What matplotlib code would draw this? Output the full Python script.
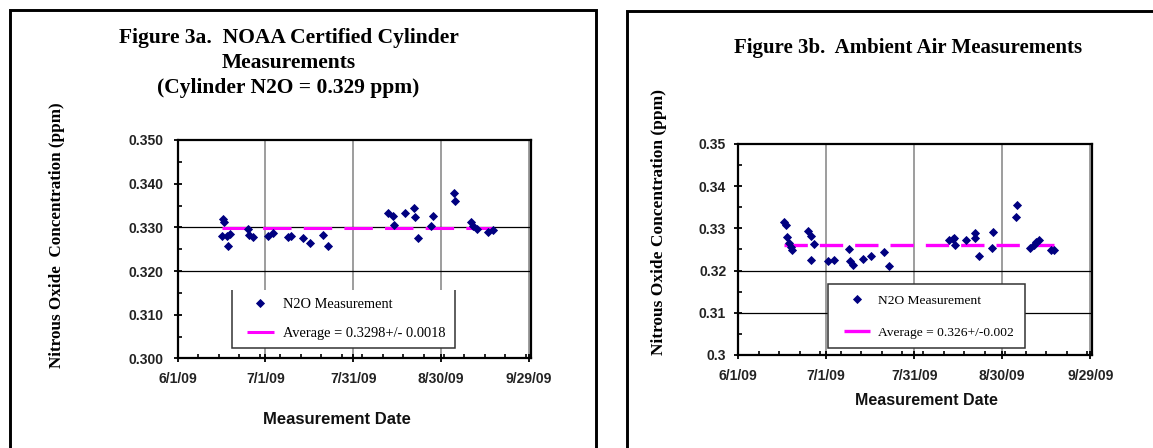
import matplotlib
matplotlib.use("Agg")
import matplotlib.pyplot as plt
import matplotlib.dates as mdates
from matplotlib.lines import Line2D
from matplotlib.patches import Rectangle, Polygon
from matplotlib.ticker import MultipleLocator, FixedLocator
import pandas as pd

plt.rcParams["font.family"] = ["Liberation Sans", "DejaVu Sans"]

# ---------------- data ----------------
a_dates = ["2009-06-16 14:00", "2009-06-16 22:00", "2009-06-16 07:00", "2009-06-17 22:00",
           "2009-06-18 19:00", "2009-06-18 07:00", "2009-06-25 00:00", "2009-06-25 10:00",
           "2009-06-26 19:00", "2009-07-01 22:00", "2009-07-03 14:00", "2009-07-08 14:00",
           "2009-07-09 14:00", "2009-07-13 19:00", "2009-07-16 02:00", "2009-07-20 14:00",
           "2009-07-22 10:00", "2009-08-11 19:00", "2009-08-13 17:00", "2009-08-13 19:00",
           "2009-08-17 19:00", "2009-08-20 19:00", "2009-08-21 05:00", "2009-08-22 00:00",
           "2009-08-26 17:00", "2009-08-27 02:00", "2009-09-03 14:00", "2009-09-03 19:00",
           "2009-09-09 02:00", "2009-09-10 00:00", "2009-09-11 10:00", "2009-09-15 02:00",
           "2009-09-16 17:00"]
a_values = [0.3319, 0.3312, 0.3280, 0.3280, 0.3284, 0.3258, 0.3296, 0.3282, 0.3278,
            0.3281, 0.3286, 0.3278, 0.3280, 0.3275, 0.3265, 0.3283, 0.3258,
            0.3334, 0.3327, 0.3306, 0.3334, 0.3344, 0.3323, 0.3275, 0.3302, 0.3327,
            0.3379, 0.3361, 0.3313, 0.3303, 0.3296, 0.3290, 0.3294]
a_average = 0.3298
a_ref_lines = [0.330, 0.320]
a_yticks = [0.300, 0.310, 0.320, 0.330, 0.340, 0.350]
a_yticklabels = ["0.300", "0.310", "0.320", "0.330", "0.340", "0.350"]
a_title = ["Figure 3a.  NOAA Certified Cylinder", "Measurements", "(Cylinder N2O = 0.329 ppm)"]
a_ylabel = "Nitrous Oxide  Concentration (ppm)"
a_legend = ["N2O Measurement", "Average = 0.3298+/- 0.0018"]

b_dates = ["2009-06-16 19:00", "2009-06-17 10:00", "2009-06-17 19:00", "2009-06-18 12:00",
           "2009-06-19 00:00", "2009-06-19 12:00", "2009-06-25 00:00", "2009-06-25 19:00",
           "2009-06-27 00:00", "2009-06-25 22:00", "2009-07-01 19:00", "2009-07-03 17:00",
           "2009-07-08 19:00", "2009-07-09 05:00", "2009-07-10 00:00", "2009-07-13 17:00",
           "2009-07-16 07:00", "2009-07-20 19:00", "2009-07-22 14:00", "2009-08-11 17:00",
           "2009-08-13 05:00", "2009-08-13 17:00", "2009-08-13 22:00", "2009-08-17 17:00",
           "2009-08-20 14:00", "2009-08-20 19:00", "2009-08-21 22:00", "2009-08-26 12:00",
           "2009-08-26 17:00", "2009-09-03 17:00", "2009-09-04 00:00", "2009-09-08 12:00",
           "2009-09-09 17:00", "2009-09-10 14:00", "2009-09-11 12:00", "2009-09-15 14:00",
           "2009-09-16 17:00"]
b_values = [0.3316, 0.3309, 0.3279, 0.3265, 0.3256, 0.3248, 0.3295, 0.3283, 0.3263,
            0.3226, 0.3223, 0.3224, 0.3251, 0.3222, 0.3214, 0.3227, 0.3234, 0.3245,
            0.3212, 0.3273, 0.3275, 0.3277, 0.3261, 0.3273, 0.3277, 0.3289, 0.3235,
            0.3253, 0.3291, 0.3327, 0.3356, 0.3253, 0.3261, 0.3267, 0.3272, 0.3248,
            0.3249]
b_average = 0.326
b_ref_lines = [0.320, 0.310]
b_yticks = [0.30, 0.31, 0.32, 0.33, 0.34, 0.35]
b_yticklabels = ["0.3", "0.31", "0.32", "0.33", "0.34", "0.35"]
b_title = ["Figure 3b.  Ambient Air Measurements"]
b_ylabel = "Nitrous Oxide Concentration (ppm)"
b_legend = ["N2O Measurement", "Average = 0.326+/-0.002"]

xtick_dates = ["2009-06-01", "2009-07-01", "2009-07-31", "2009-08-30", "2009-09-29"]
xtick_labels = ["6/1/09", "7/1/09", "7/31/09", "8/30/09", "9/29/09"]
xlabel = "Measurement Date"

NAVY = "#000080"
MAGENTA = "#FF00FF"
SERIF = ["Liberation Serif", "DejaVu Serif"]

fig = plt.figure(figsize=(11.53, 4.48), dpi=100)
fig.patch.set_facecolor("white")

# outer panel frames
fig.patches.append(Rectangle((0.0083, -0.1), 0.5169 - 0.0083, 0.978 + 0.1, transform=fig.transFigure,
                             fill=False, edgecolor="black", linewidth=2.1))
fig.patches.append(Rectangle((0.5438, -0.1), 0.6, 0.9759 + 0.1, transform=fig.transFigure,
                             fill=False, edgecolor="black", linewidth=2.1))


def make_panel(rect, dates, values, average, ref_lines, yticks, yticklabels, ylabel,
               legend_labels, dash, avg_lw, ylabel_xy, xlabel_xy, xlabel_size, ypad,
               box, box_top_edge, leg_x, leg_rows, leg_fs, leg_hl, leg_pad, ylab_fs):
    ax = fig.add_axes(rect)
    x = pd.to_datetime(dates)
    ax.set_xlim(pd.Timestamp("2009-06-01"), pd.Timestamp("2009-09-29 14:00"))
    ax.set_ylim(yticks[0], yticks[-1])

    ax.set_xticks(pd.to_datetime(xtick_dates), labels=xtick_labels, fontweight="bold")
    ax.xaxis.set_minor_locator(FixedLocator(mdates.date2num(
        pd.date_range("2009-06-01", "2009-09-29", freq="7D"))))
    ax.set_yticks(yticks, labels=yticklabels, fontweight="bold")
    ax.yaxis.set_minor_locator(MultipleLocator(0.005))

    ax.tick_params(which="major", direction="inout", length=6, width=1.3, color="black",
                   labelsize=10, labelcolor="#222222")
    ax.tick_params(axis="x", which="major", pad=7)
    ax.tick_params(axis="y", which="major", pad=ypad)
    ax.tick_params(which="minor", direction="in", length=3, width=1.2, color="black")
    ax.tick_params(top=False, right=False, which="both")

    for s in ax.spines.values():
        s.set_linewidth(1.6)
        s.set_color("black")

    ax.grid(axis="x", which="major", color="#8c8c8c", linewidth=1.2, zorder=1)
    ax.set_axisbelow(True)
    for v in ref_lines:
        ax.axhline(v, color="black", linewidth=0.9, zorder=1.5)

    ax.plot([x.min(), x.max()], [average, average], color=MAGENTA, linewidth=avg_lw,
            dashes=dash, dash_capstyle="butt", zorder=4)
    ax.plot(x, values, linestyle="none", marker="D", markersize=3.8, color=NAVY,
            markeredgecolor=NAVY, markeredgewidth=0.6, zorder=5)

    ax.set_xlabel(xlabel, fontsize=xlabel_size, fontweight="bold", color="#111111")
    ax.xaxis.label.set_va("center")
    ax.xaxis.set_label_coords(*xlabel_xy)
    ax.set_ylabel(ylabel, fontsize=ylab_fs, fontweight="bold", family=SERIF)
    ax.yaxis.label.set_va("center")
    ax.yaxis.set_label_coords(*ylabel_xy)

    # legend box
    x0, x1, y0, y1 = box
    ax.add_patch(Rectangle((x0, y0), x1 - x0, y1 - y0, transform=ax.transAxes,
                           facecolor="white", edgecolor="none", zorder=6))
    if box_top_edge:
        pts = [(x0, y0), (x1, y0), (x1, y1), (x0, y1)]
        closed = True
    else:
        pts = [(x0, y1), (x0, y0), (x1, y0), (x1, y1)]
        closed = False
    ax.add_patch(Polygon(pts, closed=closed, transform=ax.transAxes, fill=False,
                         edgecolor="#333333", linewidth=1.1, zorder=6.5))

    handles = [Line2D([], [], linestyle="none", marker="D", markersize=3.8, color=NAVY,
                      markeredgecolor=NAVY, markeredgewidth=0.6),
               Line2D([], [], color=MAGENTA, linewidth=avg_lw, solid_capstyle="butt")]
    legs = []
    for h, lab, yrow in zip(handles, legend_labels, leg_rows):
        lg = ax.legend([h], [lab], loc="center left", bbox_to_anchor=(leg_x, yrow),
                       bbox_transform=ax.transAxes, frameon=False, borderpad=0,
                       borderaxespad=0, handlelength=leg_hl, handletextpad=leg_pad,
                       numpoints=1, prop={"family": SERIF, "size": leg_fs})
        lg.set_zorder(7)
        legs.append(lg)
    for lg in legs[:-1]:
        ax.add_artist(lg)
    return ax


axA = make_panel([0.1540, 0.2, 0.3062, 0.4875], a_dates, a_values, a_average, a_ref_lines,
                 a_yticks, a_yticklabels, a_ylabel, a_legend, dash=(9.3, 4.0), avg_lw=2.2,
                 ylabel_xy=(-0.3407, 0.565), xlabel_xy=(0.4506, -0.2788), xlabel_size=12,
                 ypad=7, box=(0.1555, 0.7856, 0.049, 0.313), box_top_edge=False,
                 leg_x=0.1965, leg_rows=(0.249, 0.1163), leg_fs=10.4, leg_hl=1.87,
                 leg_pad=0.61, ylab_fs=12.3)

axB = make_panel([0.6401, 0.2076, 0.3070, 0.4710], b_dates, b_values, b_average, b_ref_lines,
                 b_yticks, b_yticklabels, b_ylabel, b_legend, dash=(7.0, 3.6), avg_lw=2.4,
                 ylabel_xy=(-0.2243, 0.6318), xlabel_xy=(0.533, -0.2133), xlabel_size=11.5,
                 ypad=5.5, box=(0.253, 0.811, 0.035, 0.336), box_top_edge=True,
                 leg_x=0.2994, leg_rows=(0.2573, 0.1076), leg_fs=9.7, leg_hl=1.93,
                 leg_pad=0.59, ylab_fs=12.5)

# titles
for line, ypix in zip(a_title, [38, 63, 88]):
    fig.text(0.2503, 1 - ypix / 448, line, ha="center", va="center", family=SERIF,
             fontweight="bold", fontsize=15.5)
for line, ypix in zip(b_title, [48.3]):
    fig.text(0.7876, 1 - ypix / 448, line, ha="center", va="center", family=SERIF,
             fontweight="bold", fontsize=15)

fig.savefig("out.png", dpi=100, facecolor="white")
